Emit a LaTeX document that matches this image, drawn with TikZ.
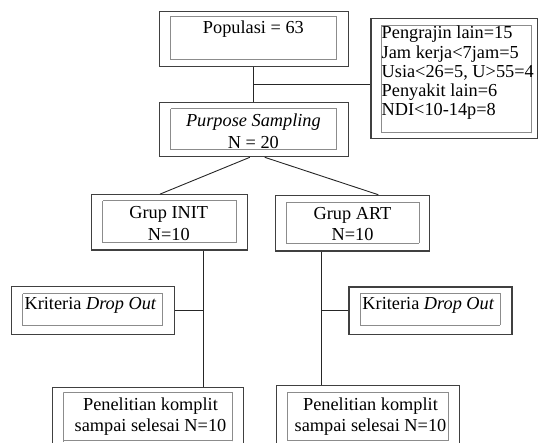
\documentclass[tikz,border=0pt]{standalone}
\usepackage{fontspec}
\setmainfont{Liberation Serif}
\usepackage{tikz}

\tikzset{
  outerbox/.style={draw=black!75, line width=1.25pt, inner sep=0pt},
  innerbox/.style={draw=black!45, line width=0.7pt, dash pattern=on 0.5pt off 0.5pt, inner sep=0pt},
  boxtext/.style={inner sep=0pt, align=center, font=\fontsize{18.3}{21.6}\selectfont},
  link/.style={draw=black!85, line width=0.9pt}
}

\begin{document}
\begin{tikzpicture}[x=1pt, y=-1pt]
        \useasboundingbox (0,0) rectangle (539,443);
        \clip (0,0) rectangle (539,443);

        % populasi
        \node[outerbox, minimum width=189pt, minimum height=55pt] (pop) at (253.8,39.2) {};
        \node[innerbox, minimum width=165.3pt, minimum height=43.3pt] (popin) at (253.4,37.7) {};
        \node[boxtext] (poptxt) at (253.4,29) {Populasi = 63};

        % eksklusi
        \node[outerbox, minimum width=166.3pt, minimum height=120pt] (excl) at (454.2,78.3) {};
        \node[innerbox, minimum width=150.3pt, minimum height=107.7pt] (exclin) at (456.2,78.9) {};
        \node[boxtext, align=left, anchor=west, font=\fontsize{18.3}{19.3}\selectfont] (excltxt) at (381.5,73)
            {Pengrajin lain=15\\Jam kerja<7jam=5\\Usia<26=5, U>55=4\\Penyakit lain=6\\NDI<10-14p=8};

        % purpose sampling
        \node[outerbox, minimum width=189pt, minimum height=54pt] (purp) at (253.8,129.7) {};
        \node[innerbox, minimum width=165.3pt, minimum height=41pt] (purpin) at (253.4,128.8) {};
        \node[boxtext] (purptxt) at (253.4,131.5) {\textit{Purpose Sampling}\\N = 20};

        % grup
        \node[outerbox, minimum width=156pt, minimum height=55.3pt] (init) at (169.7,222.4) {};
        \node[innerbox, minimum width=134pt, minimum height=41.6pt] (initin) at (169.7,221.5) {};
        \node[boxtext] (inittxt) at (168.8,223.3) {Grup INIT\\N=10};

        \node[outerbox, minimum width=154.4pt, minimum height=55.7pt] (art) at (352.5,223.2) {};
        \node[innerbox, minimum width=132.7pt, minimum height=41pt] (artin) at (352.7,222.8) {};
        \node[boxtext] (arttxt) at (352.5,224) {Grup ART\\N=10};

        % drop out
        \node[outerbox, minimum width=163pt, minimum height=48pt] (dropl) at (93,310.5) {};
        \node[innerbox, minimum width=140pt, minimum height=31.8pt] (droplin) at (92.4,309.3) {};
        \node[boxtext] (dropltxt) at (90.5,305.5) {Kriteria \textit{Drop Out}};

        \node[outerbox, minimum width=163pt, minimum height=47.5pt] (dropr) at (430.5,310.8) {};
        \node[innerbox, minimum width=139.7pt, minimum height=31.8pt] (droprin) at (430.2,309.3) {};
        \node[boxtext] (droprtxt) at (428.4,305.5) {Kriteria \textit{Drop Out}};

        % selesai
        \node[outerbox, minimum width=190.6pt, minimum height=59.7pt] (donel) at (148,417.2) {};
        \node[innerbox, minimum width=169.4pt, minimum height=48.7pt] (donelin) at (148,416.4) {};
        \node[boxtext] (doneltxt) at (150.5,416.5) {Penelitian komplit\\sampai selesai N=10};

        \node[outerbox, minimum width=182.6pt, minimum height=61.3pt] (doner) at (368,416.4) {};
        \node[innerbox, minimum width=161pt, minimum height=48.7pt] (donerin) at (367.8,416.4) {};
        \node[boxtext] (donertxt) at (370.5,416.5) {Penelitian komplit\\sampai selesai N=10};

        % garis
        \draw[link] (pop.south) -- (purp.north);
        \coordinate (brk) at (253.8,84.3);
        \draw[link] (brk) -- (brk -| excl.west);

        \draw[link] ([xshift=-4pt]purp.south) -- ([xshift=-9.7pt]init.north);
        \draw[link] ([xshift=11pt]purp.south) -- ([xshift=25.8pt]art.north);

        \coordinate (initdown) at ([xshift=33.6pt]init.south);
        \coordinate (artdown) at ([xshift=-30.8pt]art.south);
        \draw[link] (initdown) -- (initdown |- donel.north);
        \draw[link] (artdown) -- (artdown |- doner.north);

        \draw[link] (dropl.east) -- (dropl.east -| initdown);
        \draw[link] (dropr.west) -- (dropr.west -| artdown);
\end{tikzpicture}
\end{document}
